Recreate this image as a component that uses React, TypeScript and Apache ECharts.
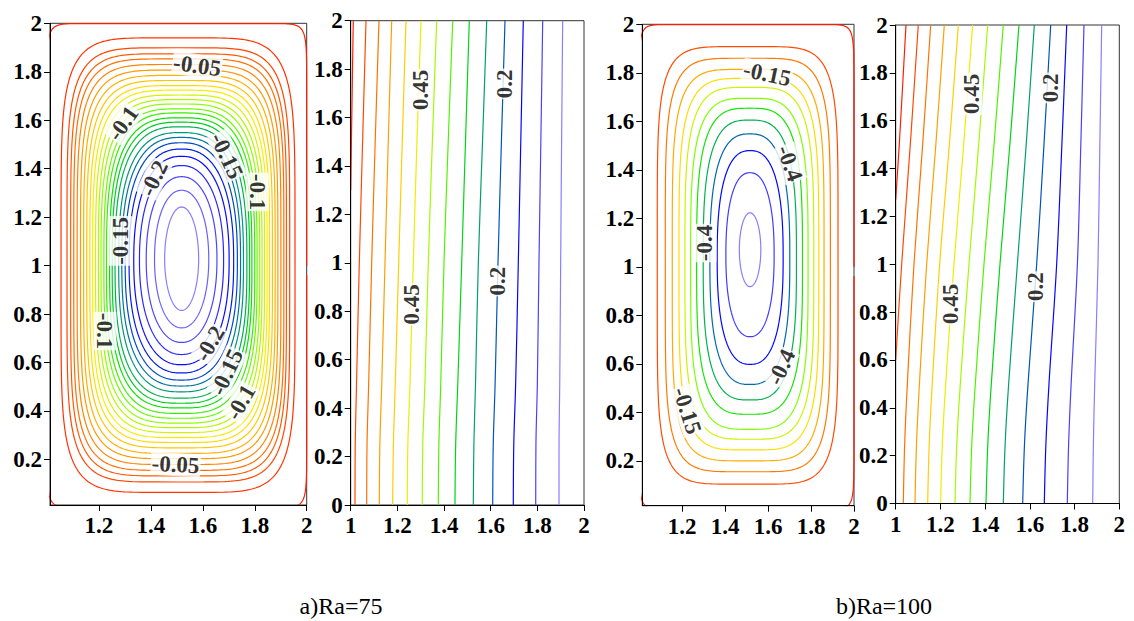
import React, { useEffect, useRef } from "react";
import * as echarts from "echarts";

// ---------- Panel a (Ra=75): stream-function contours (closed loops) ----------
// index 0 is the wall-hugging contour, last is the innermost loop
const psiALevels = [-0.002, -0.012, -0.022, -0.031, -0.04, -0.05, -0.0555, -0.061, -0.0665, -0.072, -0.0775, -0.083, -0.0885, -0.094, -0.1, -0.108, -0.117, -0.125, -0.133, -0.142, -0.15, -0.1625, -0.175, -0.1875, -0.2, -0.21, -0.22, -0.23];
const psiALeft = [1.0, 1.054, 1.077, 1.091, 1.103, 1.116, 1.129, 1.141, 1.153, 1.165, 1.176, 1.187, 1.198, 1.208, 1.219, 1.229, 1.241, 1.251, 1.262, 1.276, 1.288, 1.301, 1.316, 1.334, 1.356, 1.382, 1.414, 1.453];
const psiARight = [2.0, 1.955, 1.9345, 1.922, 1.912, 1.9006, 1.889, 1.8786, 1.868, 1.857, 1.8476, 1.8378, 1.828, 1.819, 1.809, 1.8, 1.789, 1.78, 1.7697, 1.7565, 1.7453, 1.733, 1.7187, 1.7013, 1.68, 1.6544, 1.6228, 1.584];
const psiATop = [1.999, 1.94, 1.899, 1.874, 1.853, 1.83, 1.807, 1.785, 1.764, 1.743, 1.724, 1.704, 1.685, 1.667, 1.647, 1.63, 1.61, 1.592, 1.573, 1.549, 1.529, 1.507, 1.481, 1.451, 1.413, 1.367, 1.311, 1.242];
const psiABottom = [0.0, 0.064, 0.107, 0.132, 0.155, 0.179, 0.203, 0.225, 0.248, 0.27, 0.29, 0.311, 0.331, 0.35, 0.37, 0.39, 0.4125, 0.432, 0.453, 0.479, 0.503, 0.5275, 0.557, 0.591, 0.633, 0.683, 0.743, 0.815];
const psiARound = [22, 5.5, 5.3, 5.1, 4.9, 4.7, 4.5, 4.3, 4.1, 3.95, 3.8, 3.65, 3.5, 3.35, 3.2, 3.1, 3.0, 2.9, 2.8, 2.7, 2.6, 2.5, 2.4, 2.3, 2.2, 2.15, 2.1, 2.0];

// ---------- Panel c (Ra=100): stream-function contours ----------
const psiBLevels = [-0.002, -0.05, -0.1, -0.15, -0.2, -0.25, -0.3, -0.35, -0.4, -0.45, -0.5, -0.55, -0.6];
const psiBLeft = [1.0, 1.0837, 1.121, 1.1535, 1.1847, 1.2126, 1.239, 1.267, 1.2977, 1.3288, 1.3628, 1.4033, 1.466];
const psiBRight = [2.0, 1.9256, 1.89, 1.8605, 1.836, 1.8126, 1.786, 1.76, 1.732, 1.701, 1.67, 1.628, 1.566];
const psiBTop = [1.999, 1.908, 1.86, 1.814, 1.777, 1.74, 1.695, 1.654, 1.605, 1.548, 1.479, 1.388, 1.223];
const psiBBottom = [0.0, 0.104, 0.155, 0.2, 0.245, 0.289, 0.33, 0.392, 0.451, 0.515, 0.598, 0.712, 0.918];
const psiBRound = [22, 5.5, 5, 4.6, 4.2, 3.9, 3.6, 3.3, 3.0, 2.7, 2.5, 2.3, 2.0];

// ---------- Isotherms: x position of each level at these heights ----------
const isoY = [0, 0.25, 0.5, 1, 1.5, 2];
const isoLevels = [0.7, 0.65, 0.6, 0.55, 0.5, 0.45, 0.4, 0.35, 0.3, 0.25, 0.2, 0.15, 0.1, 0.05];

// Ra=75
const isoAWallY = [1.3, null, null, null, null, null, null, null, null, null, null, null, null, null];
const isoAX = [
  [null, null, null, null, 1.003, 1.011],
  [1.0184, 1.0195, 1.025, 1.0369, 1.051, 1.0656],
  [1.0686, 1.07, 1.077, 1.09, 1.105, 1.1213],
  [1.1226, 1.125, 1.133, 1.147, 1.161, 1.1757],
  [1.18, 1.183, 1.191, 1.2057, 1.221, 1.237],
  [1.2426, 1.245, 1.254, 1.2683, 1.284, 1.3013],
  [1.3069, 1.309, 1.318, 1.3326, 1.35, 1.3686],
  [1.3755, 1.378, 1.386, 1.3999, 1.418, 1.4372],
  [1.447, 1.45, 1.459, 1.4758, 1.492, 1.5084],
  [1.5255, 1.528, 1.535, 1.547, 1.565, 1.583],
  [1.6087, 1.611, 1.619, 1.6314, 1.646, 1.6614],
  [1.697, 1.699, 1.707, 1.7184, 1.729, 1.7398],
  [1.793, 1.794, 1.8, 1.807, 1.815, 1.823],
  [1.8928, 1.893, 1.896, 1.9, 1.904, 1.9086],
];

// Ra=100
const isoBWallY = [1.27, 0.6, null, null, null, null, null, null, null, null, null, null, null, null];
const isoBX = [
  [null, null, null, null, 1.016, 1.046],
  [null, null, null, 1.0267, 1.0653, 1.101],
  [1.034, 1.0402, 1.0521, 1.0817, 1.1206, 1.1565],
  [1.0863, 1.0931, 1.1061, 1.1385, 1.1795, 1.2174],
  [1.143, 1.15, 1.1634, 1.1967, 1.24, 1.28],
  [1.201, 1.2087, 1.2236, 1.2606, 1.304, 1.344],
  [1.2652, 1.2733, 1.289, 1.3277, 1.3712, 1.4114],
  [1.3323, 1.3404, 1.3561, 1.3948, 1.4397, 1.4812],
  [1.4039, 1.412, 1.4276, 1.4663, 1.5105, 1.5514],
  [1.4813, 1.4895, 1.5052, 1.5441, 1.5836, 1.62],
  [1.568, 1.5761, 1.5918, 1.6305, 1.6631, 1.6932],
  [1.6646, 1.6718, 1.6856, 1.7199, 1.7432, 1.7648],
  [1.7675, 1.7734, 1.7846, 1.8125, 1.8279, 1.8421],
  [1.881, 1.8841, 1.89, 1.9046, 1.913, 1.9213],
];

// ---------- Contour labels ----------
const labelsPsiA = [
  { t: "-0.05", x: 1.578, y: 1.825, r: -8 },
  { t: "-0.1", x: 1.293, y: 1.587, r: 55 },
  { t: "-0.15", x: 1.692, y: 1.453, r: -65 },
  { t: "-0.1", x: 1.81, y: 1.304, r: -90 },
  { t: "-0.2", x: 1.412, y: 1.36, r: 65 },
  { t: "-0.15", x: 1.283, y: 1.102, r: 90 },
  { t: "-0.1", x: 1.223, y: 0.73, r: -90 },
  { t: "-0.2", x: 1.627, y: 0.678, r: 60 },
  { t: "-0.15", x: 1.692, y: 0.56, r: 65 },
  { t: "-0.1", x: 1.746, y: 0.436, r: 60 },
  { t: "-0.05", x: 1.495, y: 0.179, r: -3 },
];
const labelsIsoA = [
  { t: "0.45", x: 1.3, y: 1.714, r: 90 },
  { t: "0.45", x: 1.261, y: 0.829, r: 90 },
  { t: "0.2", x: 1.66, y: 1.739, r: 90 },
  { t: "0.2", x: 1.629, y: 0.925, r: 90 },
];
const labelsPsiB = [
  { t: "-0.15", x: 1.595, y: 1.795, r: -12 },
  { t: "-0.4", x: 1.701, y: 1.427, r: -70 },
  { t: "-0.4", x: 1.306, y: 1.098, r: 90 },
  { t: "-0.4", x: 1.662, y: 0.586, r: 65 },
  { t: "-0.15", x: 1.223, y: 0.407, r: -72 },
];
const labelsIsoB = [
  { t: "0.45", x: 1.337, y: 1.712, r: 90 },
  { t: "0.2", x: 1.691, y: 1.737, r: 90 },
  { t: "0.45", x: 1.244, y: 0.834, r: 90 },
  { t: "0.2", x: 1.623, y: 0.906, r: 90 },
];

const ticksInner = [1.2, 1.4, 1.6, 1.8, 2];
const ticksFullX = [1, 1.2, 1.4, 1.6, 1.8, 2];
const ticksInnerY = [0.2, 0.4, 0.6, 0.8, 1, 1.2, 1.4, 1.6, 1.8, 2];
const ticksFullY = [0, 0.2, 0.4, 0.6, 0.8, 1, 1.2, 1.4, 1.6, 1.8, 2];
const captions = ["a)Ra=75", "b)Ra=100"];

const SERIF = "Liberation Serif";

function colorAt(t: number): string {
  const stops: [number, number[]][] = [
    [0, [255, 30, 0]],
    [0.18, [255, 128, 0]],
    [0.36, [255, 236, 0]],
    [0.5, [128, 255, 0]],
    [0.6, [0, 224, 0]],
    [0.72, [0, 140, 140]],
    [0.84, [0, 0, 255]],
    [1, [138, 125, 255]],
  ];
  for (let i = 1; i < stops.length; i++) {
    if (t <= stops[i][0]) {
      const [t0, c0] = stops[i - 1];
      const [t1, c1] = stops[i];
      const f = (t - t0) / (t1 - t0);
      const c = c0.map((v, k) => Math.round(v + (c1[k] - v) * f));
      return `rgb(${c[0]},${c[1]},${c[2]})`;
    }
  }
  return "rgb(138,125,255)";
}

function loop(L: number, R: number, B: number, T: number, n: number) {
  const cx = (L + R) / 2, cy = (B + T) / 2, a = (R - L) / 2, b = (T - B) / 2;
  const pts: number[][] = [];
  const N = 320;
  for (let k = 0; k <= N; k++) {
    const th = (2 * Math.PI * k) / N;
    const c = Math.cos(th), s = Math.sin(th);
    pts.push([
      cx + a * Math.sign(c) * Math.pow(Math.abs(c), 2 / n),
      cy + b * Math.sign(s) * Math.pow(Math.abs(s), 2 / n),
    ]);
  }
  return pts;
}

function psiSeries(g: number, levels: number[], L: number[], R: number[], T: number[], B: number[], Rn: number[]) {
  return levels.map((lv, i) => ({
    type: "line",
    name: `psi${g}_${lv}`,
    xAxisIndex: g,
    yAxisIndex: g,
    data: loop(L[i], R[i], B[i], T[i], Rn[i]),
    showSymbol: false,
    symbol: "none",
    silent: true,
    clip: true,
    lineStyle: { color: colorAt(i / (levels.length - 1)), width: 1.2 },
    z: 2,
  }));
}

function isoSeries(g: number, X: (number | null)[][], wallY: (number | null)[]) {
  return isoLevels.map((lv, i) => {
    const data: number[][] = [];
    const w = wallY[i];
    if (w !== null) data.push([1, w]);
    X[i].forEach((x, k) => {
      if (x !== null) data.push([x, isoY[k]]);
    });
    return {
      type: "line",
      name: `iso${g}_${lv}`,
      xAxisIndex: g,
      yAxisIndex: g,
      data,
      smooth: 0.35,
      showSymbol: false,
      symbol: "none",
      silent: true,
      clip: true,
      lineStyle: { color: colorAt(i / (isoLevels.length - 1)), width: 1.2 },
      z: 2,
    };
  });
}

function labelSeries(g: number, labels: { t: string; x: number; y: number; r: number }[]) {
  return {
    type: "scatter",
    xAxisIndex: g,
    yAxisIndex: g,
    symbolSize: 1,
    itemStyle: { color: "rgba(0,0,0,0)" },
    silent: true,
    z: 6,
    label: {
      show: true,
      position: "inside",
      fontSize: 23,
      fontWeight: "bold",
      fontFamily: SERIF,
      color: "#000",
      backgroundColor: "#fff",
      padding: [0, 1, 0, 1],
    },
    data: labels.map((l) => ({ value: [l.x, l.y], label: { formatter: l.t, rotate: l.r } })),
  };
}

const labelFont = { fontSize: 23, fontWeight: "bold", fontFamily: SERIF, color: "#000" };

function xAxis(g: number, min: number, ticks: number[]) {
  return {
    gridIndex: g,
    type: "value",
    min,
    max: 2,
    z: 4,
    axisLine: { show: true, onZero: false, lineStyle: { color: "#000", width: 1 } },
    axisTick: { show: true, length: 6, customValues: ticks, lineStyle: { color: "#000" } },
    axisLabel: { show: true, customValues: ticks, margin: 9, ...labelFont },
    splitLine: { show: false },
  };
}
function yAxis(g: number, min: number, ticks: number[]) {
  return {
    gridIndex: g,
    type: "value",
    min,
    max: 2,
    z: 4,
    axisLine: { show: true, onZero: false, lineStyle: { color: "#000", width: 1 } },
    axisTick: { show: true, length: 6, customValues: ticks, lineStyle: { color: "#000" } },
    axisLabel: { show: true, customValues: ticks, margin: 8, ...labelFont },
    splitLine: { show: false },
  };
}

export default function App() {
  const ref = useRef<HTMLDivElement>(null);
  useEffect(() => {
    document.body.style.margin = "0";
    const chart = echarts.init(ref.current!, undefined, { renderer: "svg" });
    const gridBase = { show: true, borderColor: "#333", borderWidth: 1, backgroundColor: "transparent" };
    chart.setOption({
      animation: false,
      backgroundColor: "#fff",
      grid: [
        { ...gridBase, left: 50, top: 23.3, width: 256.7, height: 481.7 },
        { ...gridBase, left: 350.7, top: 20.7, width: 233.3, height: 484.3 },
        { ...gridBase, left: 642.3, top: 24.3, width: 211.7, height: 481.4 },
        { ...gridBase, left: 895.7, top: 25, width: 223.6, height: 478.5 },
      ],
      xAxis: [
        xAxis(0, 1.0115, ticksInner),
        xAxis(1, 1, ticksFullX),
        xAxis(2, 1.014, ticksInner),
        xAxis(3, 1, ticksFullX),
      ],
      yAxis: [
        yAxis(0, 0.012, ticksInnerY),
        yAxis(1, 0, ticksFullY),
        yAxis(2, 0.015, ticksInnerY),
        yAxis(3, 0, ticksFullY),
      ],
      series: [
        ...psiSeries(0, psiALevels, psiALeft, psiARight, psiATop, psiABottom, psiARound),
        ...isoSeries(1, isoAX, isoAWallY),
        ...psiSeries(2, psiBLevels, psiBLeft, psiBRight, psiBTop, psiBBottom, psiBRound),
        ...isoSeries(3, isoBX, isoBWallY),
        labelSeries(0, labelsPsiA),
        labelSeries(1, labelsIsoA),
        labelSeries(2, labelsPsiB),
        labelSeries(3, labelsIsoB),
      ],
      graphic: [
        {
          type: "text",
          x: 341,
          y: 606,
          style: { text: captions[0], font: `24px ${SERIF}`, fill: "#000", textAlign: "center", textVerticalAlign: "middle" },
        },
        {
          type: "text",
          x: 884,
          y: 606,
          style: { text: captions[1], font: `24px ${SERIF}`, fill: "#000", textAlign: "center", textVerticalAlign: "middle" },
        },
      ],
    });
    return () => chart.dispose();
  }, []);
  return <div ref={ref} style={{ position: "fixed", left: 0, top: 0, width: 1134, height: 621 }} />;
}
